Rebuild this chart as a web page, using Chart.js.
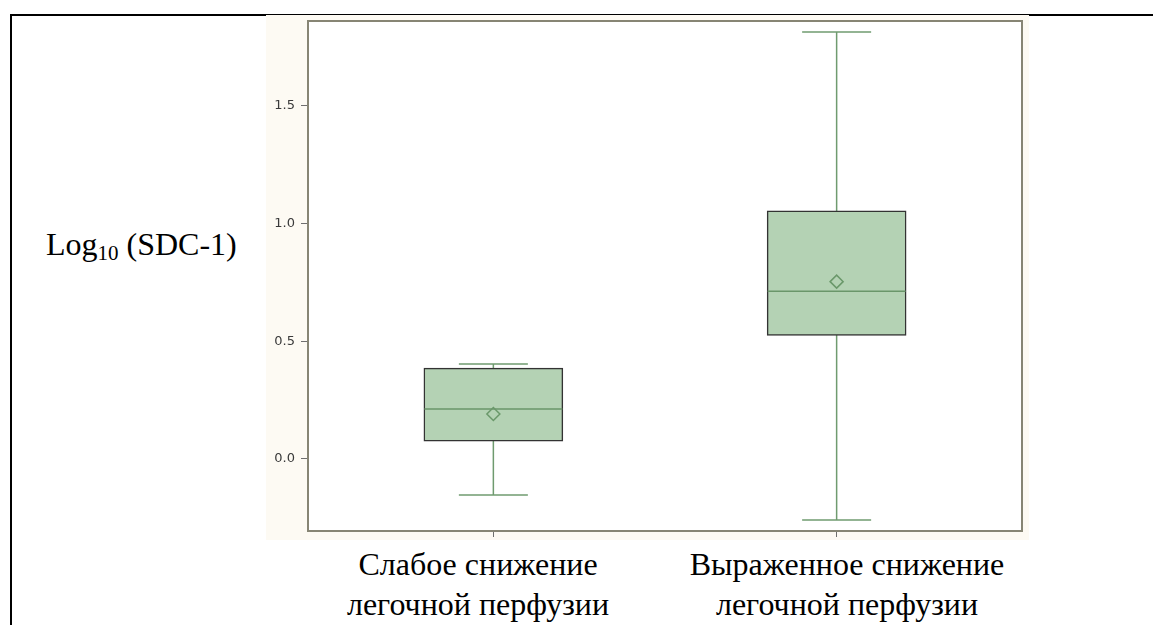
<!DOCTYPE html>
<html>
<head>
<meta charset="utf-8">
<script src="https://cdn.jsdelivr.net/npm/chart.js@4.4.1/dist/chart.umd.min.js"></script>
<style>
    body { margin: 0; background: #fff; }
    #page { position: relative; width: 1153px; height: 625px; overflow: hidden; font-family: "Liberation Serif", "Times New Roman", serif; color: #000; }
    .ligneH { position: absolute; left: 10px; top: 14px; width: 1143px; height: 2px; background: #000; }
    .ligneV { position: absolute; left: 10px; top: 14px; width: 2px; height: 611px; background: #000; }
    #cadre { position: absolute; left: 266px; top: 15px; width: 763px; height: 525px; background: #fdfaf3; }
    .titre { position: absolute; left: 46px; top: 224px; font-size: 32px; line-height: 40px; white-space: nowrap; }
    .titre sub { font-size: 21px; vertical-align: baseline; position: relative; top: 5px; }
    .etiquette { position: absolute; top: 544px; width: 380px; text-align: center; font-size: 32px; line-height: 40px; white-space: nowrap; }
</style>
</head>
<body>
<div id="page">
    <div class="ligneH"></div>
    <div class="ligneV"></div>
    <div id="cadre"><canvas id="boite" width="763" height="525"></canvas></div>
    <div class="titre">Log<sub>10</sub> (SDC-1)</div>
</div>
<script>
// donnees
const categories = [['Слабое снижение', 'легочной перфузии'], ['Выраженное снижение', 'легочной перфузии']];
const minimum = [-0.153, -0.259];
const quartile1 = [0.075, 0.525];
const mediane = [0.212, 0.712];
const quartile3 = [0.386, 1.054];
const maximum = [0.403, 1.813];
const moyenne = [0.191, 0.753];
const yTicks = [0.0, 0.5, 1.0, 1.5];
const yMin = -0.306;
const yMax = 1.86;
const xMin = 0.46;
const xMax = 2.54;

// centres des etiquettes (cellules du tableau)
const centresEtiquettes = [478, 847];

const vert = '#6f9b6f';

function points(valeurs) {
    return valeurs.map((v, i) => ({ x: i + 1, y: v }));
}

function moustaches() {
    let pts = [];
    for (let i = 0; i < minimum.length; i++) {
        pts.push({ x: i + 1, y: minimum[i] });
        pts.push({ x: i + 1, y: maximum[i] });
        pts.push({ x: i + 1, y: null }); // coupe la ligne
    }
    return pts;
}

function etiquettes() {
    const page = document.getElementById('page');
    categories.forEach((lignes, i) => {
        const div = document.createElement('div');
        div.className = 'etiquette';
        div.style.left = (centresEtiquettes[i] - 190) + 'px';
        div.innerHTML = lignes.join('<br>');
        page.appendChild(div);
    });
}

const fond = {
    id: 'fond',
    beforeDraw(chart) {
        const a = chart.chartArea;
        const ctx = chart.ctx;
        ctx.save();
        ctx.fillStyle = '#ffffff';
        ctx.fillRect(a.left, a.top, a.right - a.left, a.bottom - a.top);
        ctx.restore();
    },
    afterDraw(chart) {
        const a = chart.chartArea;
        const ctx = chart.ctx;
        ctx.save();
        ctx.strokeStyle = '#878574';
        ctx.lineWidth = 2;
        ctx.strokeRect(a.left, a.top, a.right - a.left, a.bottom - a.top);
        ctx.restore();
    }
};

const ctx = document.getElementById('boite');
new Chart(ctx, {
    type: 'bar',
    data: {
        datasets: [
            {
                type: 'line',
                data: moustaches(),
                borderColor: vert,
                borderWidth: 1.5,
                pointRadius: 0,
                spanGaps: false,
                order: 5
            },
            {
                type: 'bar',
                data: quartile1.map((q, i) => ({ x: i + 1, y: [q, quartile3[i]] })),
                backgroundColor: '#b4d2b4',
                borderColor: '#333333',
                borderWidth: 1.5,
                borderSkipped: false,
                barThickness: 139,
                grouped: false,
                order: 4
            },
            {
                type: 'scatter',
                data: points(mediane),
                pointStyle: 'line',
                pointRadius: 69,
                borderColor: '#6a966a',
                borderWidth: 1.5,
                order: 3
            },
            {
                type: 'scatter',
                data: points(minimum).concat(points(maximum)),
                pointStyle: 'line',
                pointRadius: 34.5,
                borderColor: vert,
                borderWidth: 1.5,
                order: 3
            },
            {
                type: 'scatter',
                data: points(moyenne),
                pointStyle: 'rectRot',
                pointRadius: 6.5,
                backgroundColor: 'rgba(0,0,0,0)',
                borderColor: '#6a986a',
                borderWidth: 1.5,
                order: 1
            }
        ]
    },
    options: {
        responsive: false,
        animation: false,
        layout: { autoPadding: false, padding: { top: 6, right: 7, left: 0, bottom: 0 } },
        plugins: {
            legend: { display: false },
            tooltip: { enabled: false }
        },
        scales: {
            x: {
                type: 'linear',
                min: xMin,
                max: xMax,
                offset: false,
                afterBuildTicks: (s) => { s.ticks = categories.map((c, i) => ({ value: i + 1 })); },
                afterFit: (s) => { s.height = 9; s.paddingLeft = 0; s.paddingRight = 0; },
                ticks: { display: false },
                grid: { offset: false, drawOnChartArea: false, tickLength: 6, color: '#6e6e6e', lineWidth: 1 },
                border: { display: false }
            },
            y: {
                min: yMin,
                max: yMax,
                afterBuildTicks: (s) => { s.ticks = yTicks.map(v => ({ value: v })); },
                afterFit: (s) => { s.width = 42; s.paddingTop = 0; s.paddingBottom = 0; },
                ticks: {
                    padding: 6,
                    color: '#3a3a3a',
                    font: { family: 'DejaVu Sans', size: 13 },
                    callback: (v) => Number(v).toFixed(1)
                },
                grid: { drawOnChartArea: false, tickLength: 7, color: '#6e6e6e', lineWidth: 1 },
                border: { display: false }
            }
        }
    },
    plugins: [fond]
});

etiquettes();
</script>
</body>
</html>
